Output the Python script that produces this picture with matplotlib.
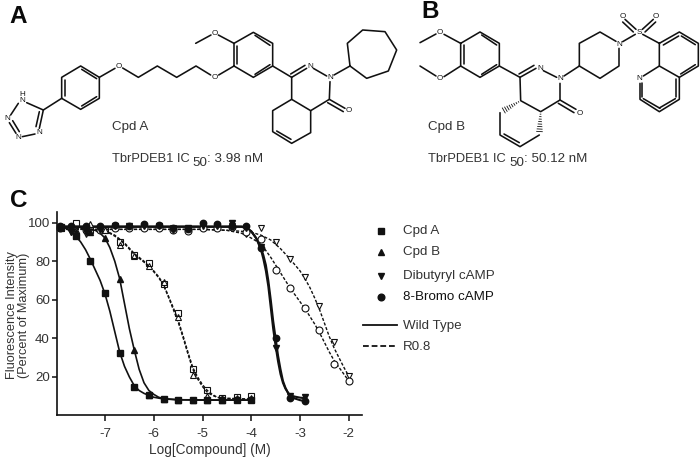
import matplotlib
matplotlib.use("Agg")
import matplotlib.pyplot as plt
from matplotlib.lines import Line2D

plt.rcParams['font.family'] = ['Liberation Sans', 'DejaVu Sans']
TXT = '#333333'
BLK = '#111111'

# ---------- data ----------
x_sq = [-7.9, -7.6, -7.3, -7.0, -6.7, -6.4, -6.1, -5.8, -5.5, -5.2, -4.9, -4.6, -4.3, -4.0]
cpdA_wt = [97.5, 93, 80, 63.5, 32.5, 15, 10.5, 8.5, 8, 8, 8, 8, 8, 8]
cpdB_wt = [98, 95, 95, 92, 71, 34, 10.5, 8.5, 8.2, 8, 8, 8, 8.5, 8.5]
cpdA_r8 = [97, 100, 96, 96, 90, 83, 79, 68, 53, 24, 13, 9, 9.5, 10]
cpdB_r8 = [97, 96, 99.5, 96, 88.5, 82.5, 77.5, 69, 51, 21, 10, 9, 9, 9]

x_cm = [-7.92, -7.7, -7.4, -7.1, -6.8, -6.5, -6.2, -5.9, -5.6, -5.3, -5.0, -4.7, -4.4, -4.1, -3.8, -3.5, -3.2, -2.9]
x_cm_long = x_cm + [-2.6, -2.3, -2.0]
brom_wt = [98, 98.5, 98.5, 98.5, 99, 98.5, 99.5, 99, 97, 96.5, 100, 99.5, 98, 98, 87, 40, 9, 7.5]
dibu_wt = [97, 95, 95, 96, 98, 98, 98, 98, 96, 97, 98, 98, 100, 97, 87.5, 35, 10, 9.5]
brom_r8 = [97, 97, 96, 96, 97, 97, 97, 97, 96, 95.5, 97, 97, 97.5, 95, 91.5, 75.5, 66, 55.5, 44.5, 26.5, 18]
dibu_r8 = [97, 95, 94, 96, 97, 97, 97, 97, 97, 96, 98, 98, 98, 94, 97, 90, 81, 72, 57, 38, 20.5]

cx_A = [-7.9, -7.8, -7.7, -7.6, -7.5, -7.4, -7.3, -7.2, -7.1, -7.0, -6.9, -6.8, -6.7, -6.6, -6.5, -6.4, -6.3, -6.2, -6.1, -6.0, -5.8, -5.5, -5.0, -4.0]
cy_A = [98, 97, 95.5, 93, 90, 86, 81, 75.5, 70, 63, 54, 43.5, 33, 25.5, 20, 15.5, 13, 11.5, 10.5, 9.5, 8.6, 8.2, 8, 8]
cx_B = [-7.9, -7.5, -7.3, -7.2, -7.1, -7.0, -6.9, -6.8, -6.7, -6.6, -6.5, -6.4, -6.3, -6.2, -6.1, -6.0, -5.9, -5.8, -5.5, -4.0]
cy_B = [98, 97.5, 96.5, 96, 94.5, 92, 87, 80, 71, 58, 45, 34, 24, 17, 13, 11, 9.5, 8.8, 8.2, 8]
cx_Ar = [-7.9, -7.5, -7.0, -6.8, -6.6, -6.4, -6.2, -6.0, -5.9, -5.8, -5.7, -5.6, -5.5, -5.4, -5.3, -5.2, -5.1, -5.0, -4.9, -4.8, -4.7, -4.6, -4.0]
cy_Ar = [97, 96.8, 96, 93.5, 89.5, 84, 80, 75, 72, 68, 62, 56, 49.5, 41.5, 33, 25, 20, 16, 13, 11, 9.5, 9, 8.5]
cy_Br = [97, 96.8, 95.8, 93, 89, 83.5, 79.5, 74.5, 71.5, 67.5, 61.5, 55, 48.5, 40.5, 32, 24, 19, 15, 12, 10.5, 9.5, 9, 8.5]
cx_Wt = [-7.9, -5.0, -4.3, -4.2, -4.1, -4.0, -3.9, -3.8, -3.75, -3.7, -3.65, -3.6, -3.55, -3.5, -3.45, -3.4, -3.35, -3.3, -3.25, -3.2, -3.1, -3.0, -2.9]
cy_brw = [98, 98, 98, 98, 97.5, 95.5, 92, 87, 83, 78, 70, 60, 49, 40, 31, 24, 18, 14.5, 12, 10, 8.8, 8, 7.5]
cy_dbw = [97.8, 97.8, 97.8, 97.8, 97.2, 95.5, 92, 86, 81, 75, 67, 56, 45, 36, 28, 21.5, 17, 14, 12, 10.5, 9.8, 9.3, 9]
cx_Dr = [-7.9, -5.0, -4.5, -4.2, -4.0, -3.8, -3.6, -3.4, -3.2, -3.0, -2.9, -2.8, -2.7, -2.6, -2.5, -2.4, -2.3, -2.2, -2.1, -2.0]
cy_dbr = [96.5, 96.5, 96, 95.5, 95, 93.5, 91, 86.5, 81, 75, 71, 66.5, 61, 55, 48, 41, 35, 30, 25, 20.5]
cy_brr = [96.5, 96.5, 96, 94.5, 92, 89, 82, 74, 66, 59, 55.5, 51.5, 47.5, 43, 38, 33, 28.5, 25, 21.5, 18]

x_ticks = [-7, -6, -5, -4, -3, -2]
y_ticks = [20, 40, 60, 80, 100]
legend_cpds = ['Cpd A', 'Cpd B', 'Dibutyryl cAMP', '8-Bromo cAMP']
legend_lines = ['Wild Type', 'R0.8']

# ---------- structure drawings (page pixels x3, as in the enlarged picture) ----------
molA = [
 [(80,308),(130,330)], [(130,330),(118,385)], [(118,335),(108,380)], [(105,402),(67,410)],
 [(48,400),(28,368)], [(58,395),(38,362)], [(32,345),(55,310)], [(130,330),(185,295)],
 [(185,295),(242,328),(298,295),(298,232),(242,198),(185,232),(185,295)],
 [(194,240),(194,288)], [(245,318),(290,290)], [(245,208),(290,236)],
 [(298,232),(345,205)], [(368,204),(415,232),(472,198),(530,232),(588,198),(632,225)], [(656,225),(702,198)],
 [(702,198),(702,130),(760,97),(818,130),(818,198),(760,232),(702,198)],
 [(711,137),(711,193)], [(765,106),(810,136)], [(765,223),(810,194)],
 [(702,130),(655,105)], [(633,105),(587,130)], [(818,198),(875,232)],
 [(875,232),(920,205)], [(872,222),(915,196)], [(940,205),(980,228)],
 [(875,232),(875,298),(932,332),(988,298),(990,245)],
 [(988,298),(1035,325)], [(983,308),(1030,335)],
 [(875,298),(818,332),(818,395),(875,430),(932,398),(932,332)], [(830,393),(873,418)],
 [(1002,225),(1050,198)],
 [(1050,198),(1042,130),(1088,90),(1155,95),(1190,150),(1165,213),(1100,235),(1050,198)],
]
molA_atoms = [('H',66,284),('N',66,303),('N',22,356),('N',55,412),('N',119,399),('O',357,199),('O',644,232),('O',644,100),('N',930,198),('N',990,232),('O',1045,332)]
molB = [
 [(60,128),(108,102)], [(132,103),(182,130)], [(60,198),(108,228)], [(132,230),(182,198)],
 [(182,130),(240,96),(298,130),(298,198),(240,232),(182,198),(182,130)],
 [(191,136),(191,193)], [(245,105),(290,135)], [(245,223),(290,194)], [(298,198),(360,232)],
 [(360,232),(408,205)], [(357,222),(402,196)], [(430,212),(470,232)],
 [(480,250),(480,300),(422,335),(362,302),(360,232)],
 [(480,300),(528,328)], [(475,310),(522,338)],
 [(300,338),(300,405),(360,440),(418,405)], [(312,402),(358,428)],
 [(492,228),(538,198)], [(538,198),(538,130),(600,96),(648,124)], [(657,145),(657,198),(600,235),(538,198)],
 [(668,125),(706,103)], [(708,88),(675,58)], [(700,96),(668,66)], [(727,88),(760,58)], [(735,96),(767,66)],
 [(728,103),(778,130)],
 [(778,130),(838,96),(895,130),(895,198),(838,232),(778,198),(778,130)],
 [(790,135),(836,108)], [(844,108),(886,134)], [(886,194),(842,222)],
 [(838,232),(838,298),(778,335),(720,298),(720,250)], [(730,228),(778,198)],
 [(829,238),(829,292)], [(778,324),(826,296)], [(730,296),(780,325)], [(726,248),(726,292)],
]
molB_atoms = [('O',120,98),('O',120,236),('N',420,204),('N',480,236),('O',538,340),('N',657,132),('S',717,97),('O',668,48),('O',767,48),('N',718,236)]
hash_wedges = [((362,302),(305,335)), ((422,335),(418,402))]

# ---------- figure ----------
fig = plt.figure(figsize=(7.0, 4.57), dpi=100)
W, H = 700, 457
L, R, T, B = 57, 362, 212, 415
ax = fig.add_axes([L/W, 1-B/H, (R-L)/W, (B-T)/H])
ax.set_xlim(-7.985, -1.728)
ax.set_ylim(0.3, 105.5)

for s in ('top', 'right'):
    ax.spines[s].set_visible(False)
for s in ('left', 'bottom'):
    ax.spines[s].set_linewidth(1.2)
    ax.spines[s].set_color(BLK)
ax.set_xticks(x_ticks)
ax.set_yticks(y_ticks)
ax.set_xticklabels([str(t) for t in x_ticks])
ax.tick_params(axis='x', length=4.5, width=1.1, color=BLK, labelsize=9.6, labelcolor=TXT, pad=5)
ax.tick_params(axis='y', length=3.6, width=1.1, color=BLK, labelsize=9.6, labelcolor=TXT, pad=1.5)
ax.set_xlabel('Log[Compound] (M)', fontsize=9.8, color=TXT, labelpad=2)
ax.set_ylabel('Fluorescence Intensity\n(Percent of Maximum)', fontsize=9.2, color=TXT,
              linespacing=1.0)
ax.yaxis.set_label_coords((30-L)/(R-L), 0.49)

# fitted curves
ax.plot(cx_A, cy_A, '-', color=BLK, lw=1.2)
ax.plot(cx_B, cy_B, '-', color=BLK, lw=1.2)
ax.plot(cx_Wt, cy_brw, '-', color=BLK, lw=1.5)
ax.plot(cx_Wt, cy_dbw, '-', color=BLK, lw=1.5)
dash = (0, (2.2, 1.3))
ax.plot(cx_Ar, cy_Ar, color=BLK, lw=1.0, ls=dash)
ax.plot(cx_Ar, cy_Br, color=BLK, lw=1.0, ls=dash)
ax.plot(cx_Dr, cy_dbr, color=BLK, lw=1.0, ls=dash)
ax.plot(cx_Dr, cy_brr, color=BLK, lw=1.0, ls=dash)

# points
opn = dict(ls='none', mfc='white', mec=BLK, mew=0.8, ms=5, clip_on=False)
fil = dict(ls='none', color=BLK, ms=4.6, clip_on=False)
ax.plot(x_cm_long, dibu_r8, 'v', **opn)
ax.plot(x_cm_long, brom_r8, 'o', **opn)
ax.plot(x_sq, cpdB_r8, '^', **opn)
ax.plot(x_sq, cpdA_r8, 's', mfc='none', mec=BLK, mew=0.8, ms=5, ls='none', clip_on=False)
ax.plot(x_cm, dibu_wt, 'v', **fil)
ax.plot(x_cm, brom_wt, 'o', **fil)
ax.plot(x_sq, cpdB_wt, '^', **fil)
ax.plot(x_sq, cpdA_wt, 's', **fil)

# page overlay in pixels
pg = fig.add_axes([0, 0, 1, 1], facecolor='none')
pg.set_xlim(0, W)
pg.set_ylim(H, 0)
pg.axis('off')

def draw_mol(bonds, atoms, ox):
    for b in bonds:
        pg.plot([ox + p[0]/3 for p in b], [p[1]/3 for p in b], '-', color=BLK, lw=1.15,
                solid_capstyle='round', solid_joinstyle='round')
    for a, zx, zy in atoms:
        pg.text(ox + zx/3, zy/3, a, ha='center', va='center', fontsize=5.8, color=BLK)

draw_mol(molA, molA_atoms, 0)
draw_mol(molB, molB_atoms, 400)
for (p0, p1) in hash_wedges:
    for i in range(1, 9):
        f = i/9
        xc = 400 + (p0[0] + (p1[0]-p0[0])*f)/3
        yc = (p0[1] + (p1[1]-p0[1])*f)/3
        dx, dy = (p1[0]-p0[0]), (p1[1]-p0[1])
        n = (dx*dx+dy*dy)**0.5
        hw = 3.2*f
        pg.plot([xc - dy/n*hw, xc + dy/n*hw], [yc + dx/n*hw, yc - dx/n*hw], '-', color=BLK, lw=0.6)

# panel letters
for s, x, y in [('A', 9, 23), ('B', 421, 18), ('C', 10, 207)]:
    pg.text(x, y, s, fontsize=17.5, fontweight='bold', color='#0a0a0a', ha='left', va='baseline')

# compound captions
lab = dict(fontsize=9.6, color=TXT, ha='left', va='baseline')
pg.text(112, 130, 'Cpd A', **lab)
pg.text(428, 130, 'Cpd B', **lab)
cap = dict(fontsize=9.3, color=TXT, ha='left', va='baseline')
pg.text(112, 162, 'TbrPDEB1 IC', **cap)
pg.text(192, 166.5, '50', **lab)
pg.text(207, 162, ': 3.98 nM', **lab)
pg.text(428, 162, 'TbrPDEB1 IC', **cap)
pg.text(509, 166.5, '50', **lab)
pg.text(524, 162, ': 50.12 nM', **lab)

# legend
for m, y, s in zip(['s', '^', 'v', 'o'], [231, 252, 276, 297], legend_cpds):
    pg.add_line(Line2D([381], [y], marker=m, color=BLK, ms=4.8, ls='none'))
    pg.text(403, y, s, fontsize=9.6, color='#111111' if s.startswith('8') else TXT, va='center', ha='left')
pg.add_line(Line2D([363, 397], [325, 325], color=BLK, lw=1.3))
pg.add_line(Line2D([363, 397], [346, 346], color=BLK, lw=1.3, ls=(0, (3.2, 1.6))))
pg.text(403, 325.5, legend_lines[0], fontsize=9.6, color=TXT, va='center', ha='left')
pg.text(403, 346.5, legend_lines[1], fontsize=9.6, color=TXT, va='center', ha='left')

fig.savefig('out.png', dpi=100)
